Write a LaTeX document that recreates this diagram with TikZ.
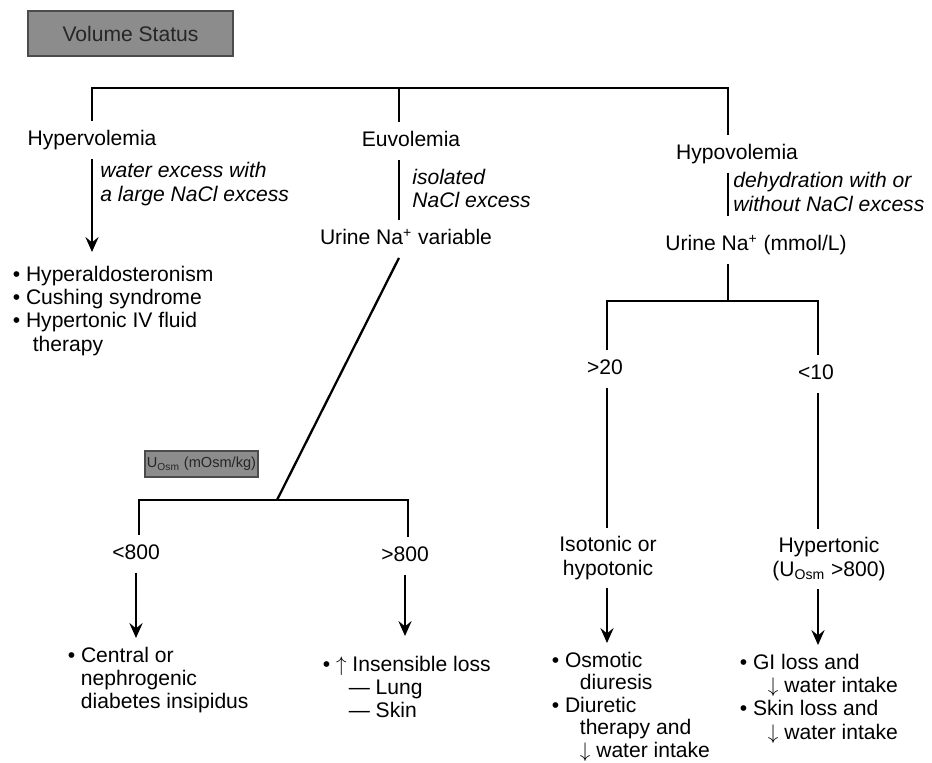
\documentclass[tikz,border=0pt]{standalone}
\usepackage{fontspec}
\setmainfont{Liberation Sans}
\usepackage{tikz}
\usetikzlibrary{arrows.meta,positioning,calc}
\usepackage{xcolor}
\definecolor{hatchgray}{RGB}{140,140,140}

\begin{document}
\begin{tikzpicture}[x=0.02cm, y=-0.02cm,
    every node/.style={font=\fontsize{12}{13.3}\selectfont},
    conn/.style={line width=1.3pt},
    arr/.style={conn,-{Stealth[length=8.5pt,width=7.5pt,inset=3pt]}},
    lbl/.style={text height=9pt, text depth=2.5pt, inner sep=2pt, outer sep=3pt},
    sub/.style={align=center, inner sep=2pt, outer sep=3pt},
    why/.style={font=\fontsize{12}{13.3}\selectfont\itshape, align=left, anchor=west, inner sep=2pt},
    list/.style={align=left, anchor=north west, inner sep=2pt, outer sep=3pt},
    hdr/.style={draw=black!70, fill=hatchgray, text=black!85, line width=0.6pt}]
        \useasboundingbox (0,0) rectangle (932,763);

        % header boxes
        \node[hdr, minimum width=4.1cm, minimum height=0.9cm] (vstat) at (130.5,33.5) {Volume Status};
        \node[hdr, minimum width=2.26cm, minimum height=0.52cm, inner xsep=0pt,
          font=\fontsize{8.3}{9}\selectfont] (uosm) at (201.5,464) {U\textsubscript{Osm} (mOsm/kg)};

        % volume status branches
        \coordinate (tl) at (92,88);
        \coordinate (tm) at (399,88);
        \coordinate (tr) at (728,88);
        \node[lbl] (hyper) at (92,140) {Hypervolemia};
        \node[lbl] (eu) at (411,141) {Euvolemia};
        \node[lbl] (hypo) at (737,154) {Hypovolemia};
        \draw[conn] (hyper.north -| tl) -- (tl) -- (tr) -- (hypo.north -| tr);
        \draw[conn] (tm) -- (eu.north -| tm);

        \node[why] (hyperwhy) at (96.5,184) {water excess with\\a large NaCl excess};
        \node[why] (euwhy) at (408.5,188.5) {isolated\\NaCl excess};
        \node[why] (hypowhy) at (729.5,192) {dehydration with or\\without NaCl excess};

        % hypervolemia
        \node[list] (hyperlist) at (4,257) {\textbullet\ Hyperaldosteronism\\\textbullet\ Cushing syndrome\\
          \textbullet\ Hypertonic IV fluid\\\hspace*{11.4pt}therapy};
        \draw[arr] (hyper.south) -- ($(hyper.south |- hyperlist.north)+(0,-5)$);

        % euvolemia
        \node[lbl] (urineeu) at (406,239) {Urine Na\textsuperscript{+} variable};
        \draw[conn] (eu.south -| tm) -- (urineeu.north -| tm);
        \coordinate (ja) at (277,500);
        \coordinate (jl) at (139,500);
        \coordinate (jr) at (408,500);
        \node[lbl] (lt800) at (136,554) {<800};
        \node[lbl] (gt800) at (405,556) {>800};
        \draw[conn] ([xshift=-4pt]urineeu.south) -- (ja);
        \draw[conn] (lt800.north -| jl) -- (jl) -- (jr) -- (gt800.north -| jr);

        \node[list] (centlist) at (59,638) {\textbullet\ Central or\\\hspace*{7.5pt}nephrogenic\\
          \hspace*{7.5pt}diabetes insipidus};
        \node[list] (inslist) at (314,647) {\textbullet\ $\uparrow$ Insensible loss\\
          \hspace*{14.8pt}\textemdash\ Lung\\\hspace*{14.8pt}\textemdash\ Skin};
        \draw[arr] (lt800.south) -- (lt800.south |- centlist.north);
        \draw[arr] (gt800.south) -- ($(gt800.south |- inslist.north)+(0,-11)$);

        % hypovolemia
        \node[lbl] (urinehypo) at (756,245) {Urine Na\textsuperscript{+} (mmol/L)};
        \draw[conn, shorten >=6pt] (hypo.south -| tr) -- (urinehypo.north -| tr);
        \coordinate (j3) at (728,301);
        \coordinate (j3l) at (607,301);
        \coordinate (j3r) at (818,301);
        \node[lbl] (gt20) at (605,369) {>20};
        \node[lbl] (lt10) at (816,374) {<10};
        \draw[conn] (urinehypo.south -| j3) -- (j3);
        \draw[conn] (gt20.north -| j3l) -- (j3l) -- (j3r) -- (lt10.north -| j3r);

        \node[sub] (iso) at (608,558) {Isotonic or\\hypotonic};
        \node[sub] (hyperton) at (829,559) {Hypertonic\\(U\textsubscript{Osm} >800)};
        \draw[conn] (gt20.south -| j3l) -- (iso.north -| j3l);
        \draw[conn] (lt10.south -| j3r) -- (hyperton.north -| j3r);

        \node[list, font=\fontsize{12}{12.8}\selectfont] (isolist) at (543,643) {\textbullet\ Osmotic\\\hspace*{16pt}diuresis\\
          \textbullet\ Diuretic\\\hspace*{16pt}therapy and\\\hspace*{16pt}$\downarrow$ water intake};
        \node[list] (gilist) at (731,645) {\textbullet\ GI loss and\\\hspace*{16pt}$\downarrow$ water intake\\
          \textbullet\ Skin loss and\\\hspace*{16pt}$\downarrow$ water intake};
        \draw[arr] (iso.south -| j3l) -- (isolist.north -| j3l);
        \draw[arr] (hyperton.south -| j3r) -- (gilist.north -| j3r);
      \end{tikzpicture}
\end{document}
